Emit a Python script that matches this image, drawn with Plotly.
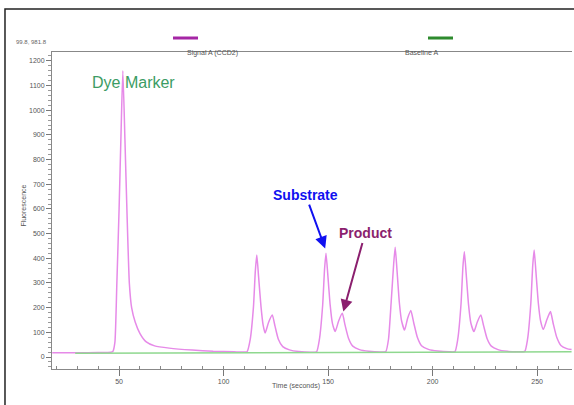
import plotly.graph_objects as go

# ---- data ----
signal_time = [18, 30, 40, 46,
               47, 48, 48.9, 50.0, 51.0, 51.8, 52.8, 53.8, 54.9, 56.0, 57.7, 60, 63, 67, 74, 85, 95, 105, 110,
               111.2, 112.7, 114.3, 115.2, 115.9, 116.7, 117.9, 118.9, 119.9, 121.5, 123.3, 124.6, 126.2, 128.3, 131.5, 136, 142,
               144.5, 145.8, 147.4, 148.3, 149.0, 149.8, 151.0, 152.1, 153.4, 155.0, 156.8, 158.1, 159.8, 161.8, 165, 169.5, 175,
               177.6, 178.9, 180.2, 181.4, 182.1, 182.9, 184.1, 185.2, 186.6, 188.0, 189.6, 191.0, 192.7, 194.7, 198, 202.5, 208,
               210.7, 212.0, 213.6, 214.5, 215.2, 216.0, 217.2, 218.3, 219.8, 221.4, 223.1, 224.4, 226.1, 228.1, 231.3, 235.8, 241,
               244.1, 245.4, 247.0, 247.9, 248.6, 249.4, 250.6, 251.7, 253.0, 254.7, 256.4, 257.7, 259.4, 261.4, 264.2, 266.5]
signal_value = [17, 17, 18, 19,
                22, 60, 290, 600, 930, 1160, 880, 580, 300, 200, 142, 95, 61, 45, 36, 28, 23, 21, 20,
                21, 69, 204, 350, 413, 330, 204, 130, 97, 140, 170, 125, 72, 42, 29, 22, 19,
                21, 69, 210, 355, 420, 340, 210, 135, 103, 145, 177, 130, 75, 44, 30, 23, 20,
                22, 72, 225, 380, 445, 360, 220, 145, 109, 155, 188, 138, 80, 46, 31, 24, 21,
                22, 70, 215, 365, 427, 345, 212, 138, 103, 142, 170, 127, 74, 44, 30, 23, 21,
                23, 70, 218, 370, 434, 350, 218, 145, 112, 152, 184, 136, 80, 47, 34, 30]
baseline_time = [29, 100, 200, 266.5]
baseline_value = [15, 17, 19, 21]

x_ticks = [50, 100, 150, 200, 250]
y_ticks = [0, 100, 200, 300, 400, 500, 600, 700, 800, 900, 1000, 1100, 1200]

FONT = "Liberation Sans, Arial, sans-serif"

fig = go.Figure()
fig.add_trace(go.Scatter(x=signal_time, y=signal_value, mode="lines",
                         line=dict(color="#e68ae8", width=1.5, shape="spline", smoothing=0.5),
                         name="Signal A (CCD2)", showlegend=False))
fig.add_trace(go.Scatter(x=baseline_time, y=baseline_value, mode="lines",
                         line=dict(color="#8fd88f", width=1.5),
                         name="Baseline A", showlegend=False))

fig.update_layout(
    width=574, height=405,
    margin=dict(l=52, r=2, t=52, b=36),
    paper_bgcolor="white", plot_bgcolor="white",
    font=dict(family=FONT, color="#555555", size=7),
    xaxis=dict(range=[17.9, 266.7], tickvals=x_ticks, showgrid=False, zeroline=False,
               showline=True, linecolor="#888888", linewidth=1, mirror=True,
               ticks="outside", ticklen=6, tickcolor="#777777",
               minor=dict(dtick=10, ticks="inside", ticklen=3, tickcolor="#888888"),
               tickfont=dict(size=7, color="#555555")),
    yaxis=dict(range=[-48.6, 1236], tickvals=y_ticks, showgrid=False, zeroline=False,
               showline=True, linecolor="#888888", linewidth=1,
               ticks="outside", ticklen=5, tickcolor="#777777",
               minor=dict(dtick=20, ticks="outside", ticklen=3, tickcolor="#999999"),
               tickfont=dict(size=7, color="#555555")),
    showlegend=False,
)

# outer frame
fig.add_shape(type="rect", xref="paper", yref="paper",
              x0=-0.0904, x1=1.02, y0=-0.14, y1=1.1356,
              line=dict(color="#222222", width=1.5), fillcolor="rgba(0,0,0,0)")
# legend bars
fig.add_shape(type="rect", xref="paper", yref="paper",
              x0=0.2327, x1=0.2808, y0=1.0394, y1=1.0489,
              line=dict(width=0), fillcolor="#a526a5")
fig.add_shape(type="rect", xref="paper", yref="paper",
              x0=0.7231, x1=0.7712, y0=1.0394, y1=1.0489,
              line=dict(width=0), fillcolor="#2e8b2e")

ann = [
    dict(text="Signal A (CCD2)", x=0.2558, y=1.0158, xref="paper", yref="paper",
         showarrow=False, font=dict(size=7, color="#555555")),
    dict(text="Baseline A", x=0.7462, y=1.0158, xref="paper", yref="paper",
         showarrow=False, font=dict(size=7, color="#555555")),
    dict(text="99.8, 981.8", x=-0.0731, y=1.047, xref="paper", yref="paper", xanchor="left",
         showarrow=False, font=dict(size=6, color="#666666")),
    dict(text="Time (seconds)", x=0.469, y=-0.0726, xref="paper", yref="paper",
         showarrow=False, font=dict(size=7, color="#555555")),
    dict(text="Fluorescence", x=-0.0654, y=0.517, xref="paper", yref="paper", textangle=-90,
         showarrow=False, font=dict(size=7, color="#555555")),
    dict(text="Dye Marker", x=57.0, y=1111, xref="x", yref="y",
         showarrow=False, font=dict(size=16, color="#3c9c64")),
    dict(text="<b>Substrate</b>", x=148.6, y=440, xref="x", yref="y",
         ax=-19.5, ay=-53.3, showarrow=True, arrowhead=2, arrowsize=1.2, arrowwidth=2,
         arrowcolor="#1010f0", font=dict(size=14, color="#1010f0")),
    dict(text="<b>Product</b>", x=157.3, y=184, xref="x", yref="y",
         ax=21.7, ay=-78.2, showarrow=True, arrowhead=2, arrowsize=1.2, arrowwidth=2,
         arrowcolor="#8b1f6e", font=dict(size=14, color="#8b1f6e")),
]
fig.update_layout(annotations=ann)

fig.write_html("out.html", config={"displayModeBar": False},
               post_script="document.body.style.margin='0';document.body.style.overflow='hidden';")
